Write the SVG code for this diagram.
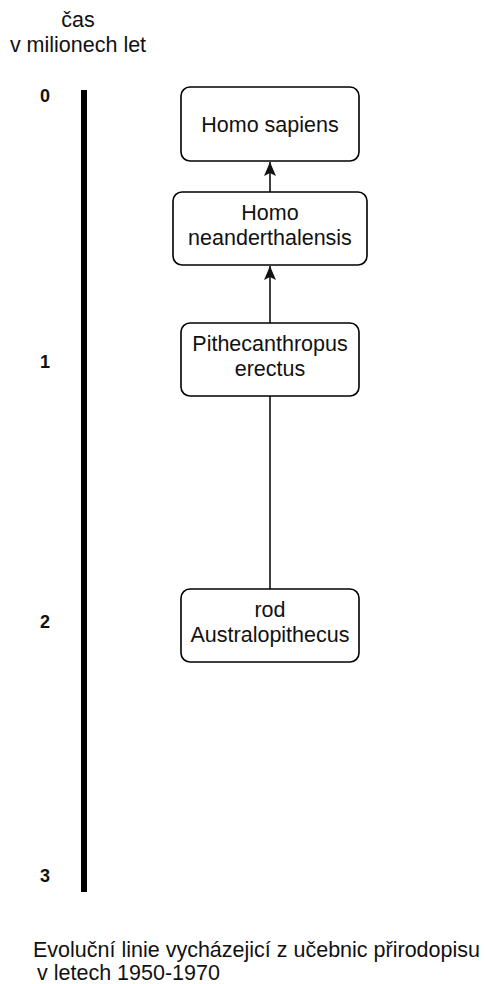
<svg xmlns="http://www.w3.org/2000/svg" width="485" height="984" viewBox="0 0 485 984">
  <style>
    text { font-family: "Liberation Sans", Arial, sans-serif; font-size: 21.5px; fill: #111; }
    .mid { text-anchor: middle; }
    .tick { font-weight: bold; font-size: 18px; text-anchor: middle; }
    .box { fill: #fff; stroke: #000; stroke-width: 1.6; }
    .edge { fill: none; stroke: #111; stroke-width: 1.6; }
  </style>
  <defs>
    <marker id="arrow" viewBox="0 0 14 14" refX="14" refY="7" markerWidth="14" markerHeight="14" markerUnits="userSpaceOnUse" orient="auto">
      <path d="M0,1 L14,7 L0,13 L3,7 Z" fill="#111"/>
    </marker>
  </defs>
  <rect width="485" height="984" fill="#fff"/>

  <!-- time axis -->
  <g id="axis">
    <text class="mid" x="78" y="27">čas</text>
    <text class="mid" x="78" y="52">v milionech let</text>
    <line x1="84" y1="90" x2="84" y2="892" stroke="#000" stroke-width="6"/>
    <text class="tick" x="45" y="102">0</text>
    <text class="tick" x="45" y="368">1</text>
    <text class="tick" x="45" y="628">2</text>
    <text class="tick" x="45" y="882">3</text>
  </g>

  <!-- connectors -->
  <g id="edges">
    <line class="edge" x1="270" y1="589" x2="270" y2="396"/>
    <line class="edge" x1="270" y1="323" x2="270" y2="266" marker-end="url(#arrow)"/>
    <line class="edge" x1="270" y1="192" x2="270" y2="162" marker-end="url(#arrow)"/>
  </g>

  <g id="homo-sapiens">
    <rect class="box" x="181" y="87" width="178" height="74" rx="9"/>
    <text class="mid" x="270" y="131.5">Homo sapiens</text>
  </g>

  <g id="homo-neanderthalensis">
    <rect class="box" x="173" y="192" width="194" height="73" rx="9"/>
    <text class="mid" x="270" y="220">Homo</text>
    <text class="mid" x="270" y="245">neanderthalensis</text>
  </g>

  <g id="pithecanthropus-erectus">
    <rect class="box" x="181" y="323" width="178" height="73" rx="9"/>
    <text class="mid" x="270" y="351">Pithecanthropus</text>
    <text class="mid" x="270" y="376">erectus</text>
  </g>

  <g id="australopithecus">
    <rect class="box" x="181" y="589" width="178" height="73" rx="9"/>
    <text class="mid" x="270" y="617">rod</text>
    <text class="mid" x="270" y="642">Australopithecus</text>
  </g>

  <!-- caption -->
  <g id="caption">
    <text x="33" y="957">Evoluční linie vycházejicí z učebnic přirodopisu</text>
    <text x="37" y="980">v letech 1950-1970</text>
  </g>
</svg>
